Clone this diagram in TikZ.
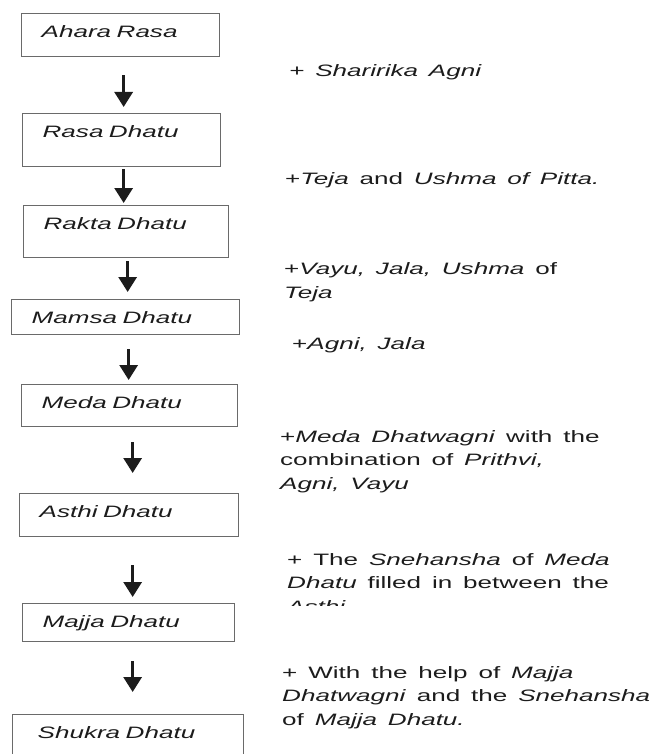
\documentclass[tikz,border=0pt]{standalone}
\usepackage{fontspec}
\setmainfont[FakeStretch=1.58,WordSpace=1.5]{Liberation Sans}
\usetikzlibrary{arrows.meta,calc}
\definecolor{boxgray}{HTML}{6A6A6A}
\definecolor{ink}{HTML}{1C1C1C}
\tikzset{
  dhatu/.style={draw=boxgray,line width=1.3pt,anchor=north west,inner xsep=20pt,inner ysep=0pt,
    text height=24pt,align=left,text=ink,font=\fontsize{16.5}{20}\selectfont\itshape},
  flow/.style={ink,line width=3pt,-{Triangle[width=18pt,length=15pt]}},
  note/.style={anchor=base west,align=left,inner sep=0pt,text=ink,font=\fontsize{16.5}{23.5}\selectfont}
}
\begin{document}
\begin{tikzpicture}[x=1pt,y=-1pt]
                \useasboundingbox (0,0) rectangle (656,754);
                \clip (0,0) rectangle (656,754);
                %% Dhatu chain
                \node[dhatu,text width=158pt,text depth=19pt] (ahara) at (21,13) {Ahara Rasa};
                \node[dhatu,text width=158pt,text depth=29pt] (rasa) at (22,113) {Rasa Dhatu};
                \node[dhatu,text width=165pt,text depth=28pt] (rakta) at (23,205) {Rakta Dhatu};
                \node[dhatu,text width=188pt,text depth=11pt] (mamsa) at (11,299) {Mamsa Dhatu};
                \node[dhatu,text width=176pt,text depth=18pt] (meda) at (21,384) {Meda Dhatu};
                \node[dhatu,text width=179pt,text depth=19pt] (asthi) at (19,493) {Asthi Dhatu};
                \node[dhatu,text width=172pt,text depth=14pt] (majja) at (22,603) {Majja Dhatu};
                \node[dhatu,text width=181pt,text depth=40pt,inner xsep=25pt] (shukra) at (12,714) {Shukra Dhatu};
                %% arrows
                \draw[flow] ($(ahara.south)+(3,18)$) -- ($(ahara.south |- rasa.north)+(3,-6)$);
                \draw[flow] ($(rasa.south)+(2,2)$) -- ($(rasa.south |- rakta.north)+(2,-2)$);
                \draw[flow] ($(rakta.south)+(1.5,3)$) -- ($(rakta.south |- mamsa.north)+(1.5,-7)$);
                \draw[flow] ($(mamsa.south)+(3,14)$) -- ($(mamsa.south |- meda.north)+(3,-4)$);
                \draw[flow] ($(meda.south)+(3,15)$) -- ($(meda.south |- asthi.north)+(3,-20)$);
                \draw[flow] ($(asthi.south)+(3.5,28)$) -- ($(asthi.south |- majja.north)+(3.5,-6)$);
                \draw[flow] ($(majja.south)+(4,19)$) -- ($(majja.south |- shukra.north)+(4,-22)$);
                %% what is added at each step (anchored at the last line)
                \node[note] (n1) at (289,77) {\itshape + Sharirika Agni};
                \node[note] (n2) at (285,185) {+\textit{Teja} and \textit{Ushma of Pitta.}};
                \node[note] (n3) at (284,298) {+\textit{Vayu, Jala, Ushma} of\\\textit{Teja}};
                \node[note] (n4) at (292,349) {+\textit{Agni, Jala}};
                \node[note] (n5) at (280,489) {+\textit{Meda Dhatwagni} with the\\combination of \textit{Prithvi,}\\\textit{Agni, Vayu}};
                \begin{scope}
                    \clip (270,540) rectangle (656,605);
                    \node[note] (n6) at (287,612) {+ The \textit{Snehansha} of \textit{Meda}\\\textit{Dhatu} filled in between the\\\textit{Asthi}};
                \end{scope}
                \node[note] (n7) at (282,725) {+ With the help of \textit{Majja}\\\textit{Dhatwagni} and the \textit{Snehansha}\\of \textit{Majja Dhatu.}};
            \end{tikzpicture}
\end{document}
